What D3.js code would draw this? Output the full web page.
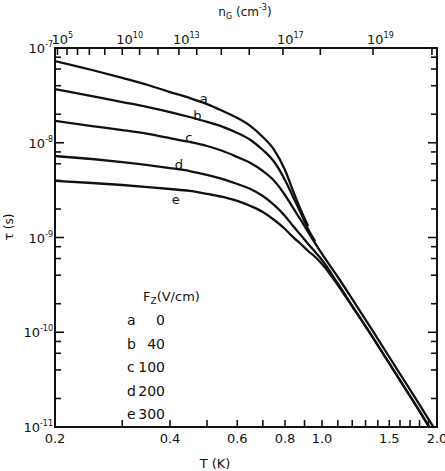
<!DOCTYPE html>
<html>
<head>
<meta charset="utf-8">
<script src="https://cdn.jsdelivr.net/npm/d3@7"></script>
<style>
  body { margin: 0; background: #fff; }
  text { font-family: "DejaVu Sans", sans-serif; fill: #111; }
</style>
</head>
<body>
<div id="chart"></div>
<script>
// temperature samples (K)
var temps = [0.2, 0.25, 0.3, 0.35, 0.4, 0.45, 0.5, 0.55, 0.6, 0.65, 0.7, 0.75, 0.8, 0.84, 0.88, 0.92, 0.96, 1.0, 1.1, 1.2, 1.35, 1.5, 1.65, 1.8, 1.9, 2.0];

// lifetime tau (s) for each field (null = curve not drawn)
var tauA = [7.29e-8, 5.86e-8, 4.83e-8, 4.07e-8, 3.43e-8, 2.97e-8, 2.56e-8, 2.16e-8, 1.83e-8, 1.50e-8, 1.15e-8, 8.38e-9, 5.16e-9, 3.10e-9, 1.95e-9, 1.32e-9,
            null, null, null, null, null, null, null, null, null, null];
var tauB = [3.69e-8, 3.11e-8, 2.69e-8, 2.38e-8, 2.11e-8, 1.87e-8, 1.66e-8, 1.47e-8, 1.27e-8, 1.07e-8, 8.38e-9, 6.26e-9, 4.05e-9, 2.68e-9, 1.81e-9, 1.22e-9, 9.08e-10,
            null, null, null, null, null, null, null, null, null];
var tauC = [1.70e-8, 1.50e-8, 1.36e-8, 1.24e-8, 1.12e-8, 1.02e-8, 9.24e-9, 8.18e-9, 7.07e-9, 6.11e-9, 5.03e-9, 3.95e-9, 2.81e-9, 2.05e-9, 1.53e-9, 1.14e-9, 8.65e-10,
            6.70e-10, 3.83e-10, 2.24e-10, 1.07e-10, 5.48e-11, 3.00e-11, 1.72e-11, 1.21e-11, 8.70e-12];
var tauD = [7.25e-9, 6.74e-9, 6.26e-9, 5.82e-9, 5.41e-9, 5.03e-9, 4.57e-9, 4.14e-9, 3.67e-9, 3.25e-9, 2.74e-9, 2.20e-9, 1.69e-9, 1.32e-9, 1.06e-9, 8.54e-10, 7.03e-10,
            5.79e-10, 3.27e-10, 1.90e-10, 9.16e-11, 4.69e-11, 2.56e-11, 1.47e-11, 1.03e-11, 7.43e-12];
var tauE = [3.95e-9, 3.76e-9, 3.58e-9, 3.41e-9, 3.25e-9, 3.10e-9, 2.88e-9, 2.68e-9, 2.43e-9, 2.15e-9, 1.86e-9, 1.53e-9, 1.23e-9, 1.01e-9, 8.54e-10, 7.20e-10, 6.22e-10,
            5.25e-10, 3.15e-10, 1.87e-10, 9.16e-11, 4.69e-11, 2.56e-11, 1.47e-11, 1.03e-11, 7.43e-12];

var curveNames = ["a", "b", "c", "d", "e"];
var fields = ["0", "40", "100", "200", "300"];

// label position of each curve (T, tau)
var labelT = [0.49, 0.472, 0.448, 0.422, 0.414];
var labelTau = [2.63e-8, 1.74e-8, 1.02e-8, 5.28e-9, 2.26e-9];

// axis ticks
var tTicks = [0.2, 0.3, 0.4, 0.5, 0.6, 0.7, 0.8, 0.9, 1.0, 1.1, 1.2, 1.3, 1.4, 1.5, 1.6, 1.7, 1.8, 1.9, 2.0];
var tLabels = [0.2, 0.4, 0.6, 0.8, 1.0, 1.5, 2.0];
var tauMajor = [1e-7, 1e-8, 1e-9, 1e-10, 1e-11];
var tauMinorMult = [2, 4, 6, 8];

// gas density ticks (exponent of n_G) and the temperature where each falls
var nGExp = [5, 6, 7, 8, 9, 10, 11, 12, 13, 14, 15, 16, 17, 18, 19, 20];
var nGT = [0.203, 0.215, 0.229, 0.246, 0.27, 0.30, 0.333, 0.372, 0.422, 0.47, 0.545, 0.645, 0.79, 0.99, 1.36, 1.94];
var nGLabelExp = [5, 10, 13, 17, 19];

var W = 445, H = 471;
var margin = {top: 48, right: 8, bottom: 44, left: 55};

var svg = d3.select("#chart").append("svg")
    .attr("width", W)
    .attr("height", H);

var x = d3.scaleLog().domain([0.2, 2.0]).range([margin.left, W - margin.right]);
var y = d3.scaleLog().domain([1e-11, 1e-7]).range([H - margin.bottom, margin.top]);

var x0 = x.range()[0], x1 = x.range()[1];
var y0 = y.range()[1], y1 = y.range()[0];

svg.append("clipPath").attr("id", "plot")
    .append("rect")
    .attr("x", x0).attr("y", y0)
    .attr("width", x1 - x0).attr("height", y1 - y0);

// curves
var series = [tauA, tauB, tauC, tauD, tauE];
var line = d3.line()
    .defined(function (d) { return d[1] != null; })
    .x(function (d) { return x(d[0]); })
    .y(function (d) { return y(d[1]); })
    .curve(d3.curveMonotoneX);

svg.append("g")
    .attr("clip-path", "url(#plot)")
    .selectAll(".curve")
    .data(series)
    .join("path")
    .attr("class", "curve")
    .attr("d", function (s) { return line(temps.map(function (t, i) { return [t, s[i]]; })); })
    .attr("fill", "none")
    .attr("stroke", "#111")
    .attr("stroke-width", 2.3);

// frame
svg.append("rect")
    .attr("x", x0).attr("y", y0)
    .attr("width", x1 - x0).attr("height", y1 - y0)
    .attr("fill", "none")
    .attr("stroke", "#111")
    .attr("stroke-width", 2);

// bottom ticks (inward)
svg.selectAll(".tb")
    .data(tTicks)
    .join("line")
    .attr("x1", function (d) { return x(d); })
    .attr("x2", function (d) { return x(d); })
    .attr("y1", y1)
    .attr("y2", y1 - 7)
    .attr("stroke", "#111").attr("stroke-width", 1.6);

svg.selectAll(".tl")
    .data(tLabels)
    .join("text")
    .attr("x", function (d) { return x(d); })
    .attr("y", y1 + 16)
    .attr("text-anchor", "middle")
    .attr("font-size", 13)
    .text(function (d) { return d.toFixed(1); });

// left and right ticks
var minorTau = [];
tauMajor.slice(0, 4).forEach(function (m) {
    tauMinorMult.forEach(function (k) { minorTau.push(m / 10 * k); });
});

[x0, x1].forEach(function (xp, side) {
    var dir = side === 0 ? 1 : -1;
    svg.selectAll(".tmaj" + side)
        .data(tauMajor)
        .join("line")
        .attr("x1", xp).attr("x2", xp + dir * 9)
        .attr("y1", function (d) { return y(d); })
        .attr("y2", function (d) { return y(d); })
        .attr("stroke", "#111").attr("stroke-width", 1.6);
    svg.selectAll(".tmin" + side)
        .data(minorTau)
        .join("line")
        .attr("x1", xp).attr("x2", xp + dir * 6)
        .attr("y1", function (d) { return y(d); })
        .attr("y2", function (d) { return y(d); })
        .attr("stroke", "#111").attr("stroke-width", 1.6);
});

// left tick labels 10^n
var yl = svg.selectAll(".yl")
    .data(tauMajor)
    .join("text")
    .attr("x", x0 - 2)
    .attr("y", function (d) { return y(d) + 5; })
    .attr("text-anchor", "end")
    .attr("font-size", 13);
yl.append("tspan").text("10");
yl.append("tspan")
    .attr("dy", -6)
    .attr("font-size", 8)
    .text(function (d) { return Math.round(Math.log10(d)); });

// top ticks (n_G)
svg.selectAll(".tt")
    .data(nGT)
    .join("line")
    .attr("x1", function (d) { return x(d); })
    .attr("x2", function (d) { return x(d); })
    .attr("y1", y0)
    .attr("y2", y0 + 7)
    .attr("stroke", "#111").attr("stroke-width", 1.6);

var tt = svg.selectAll(".ttl")
    .data(nGLabelExp)
    .join("text")
    .attr("x", function (d) { return x(nGT[nGExp.indexOf(d)]) - 6; })
    .attr("y", y0 - 4)
    .attr("font-size", 13);
tt.append("tspan").text("10");
tt.append("tspan")
    .attr("dy", -6)
    .attr("font-size", 8)
    .text(function (d) { return d; });

// axis titles
var tx = svg.append("text")
    .attr("x", 245).attr("y", 16)
    .attr("text-anchor", "middle")
    .attr("font-size", 12);
tx.append("tspan").text("n");
tx.append("tspan").attr("dy", 3).attr("font-size", 8).text("G");
tx.append("tspan").attr("dy", -3).text(" (cm");
tx.append("tspan").attr("dy", -6).attr("font-size", 8).text("-3");
tx.append("tspan").attr("dy", 6).text(")");

svg.append("text")
    .attr("x", 215).attr("y", 468)
    .attr("text-anchor", "middle")
    .attr("font-size", 13)
    .text("T (K)");

svg.append("text")
    .attr("transform", "translate(13," + 227 + ") rotate(-90)")
    .attr("text-anchor", "middle")
    .attr("font-size", 12)
    .text("τ (s)");

// curve labels
svg.selectAll(".cl")
    .data(curveNames)
    .join("text")
    .attr("x", function (d, i) { return x(labelT[i]); })
    .attr("y", function (d, i) { return y(labelTau[i]); })
    .attr("text-anchor", "middle")
    .attr("font-size", 13)
    .text(function (d) { return d; });

// legend
var lg = svg.append("text")
    .attr("x", 143).attr("y", 301)
    .attr("font-size", 13);
lg.append("tspan").text("F");
lg.append("tspan").attr("dy", 3).attr("font-size", 9).text("Z");
lg.append("tspan").attr("dy", -3).text("(V/cm)");

svg.selectAll(".lgn")
    .data(curveNames)
    .join("text")
    .attr("x", 127)
    .attr("y", function (d, i) { return 325 + i * 23.5; })
    .attr("font-size", 14)
    .text(function (d) { return d; });

svg.selectAll(".lgv")
    .data(fields)
    .join("text")
    .attr("x", 165)
    .attr("y", function (d, i) { return 325 + i * 23.5; })
    .attr("text-anchor", "end")
    .attr("font-size", 14)
    .text(function (d) { return d; });
</script>
</body>
</html>
